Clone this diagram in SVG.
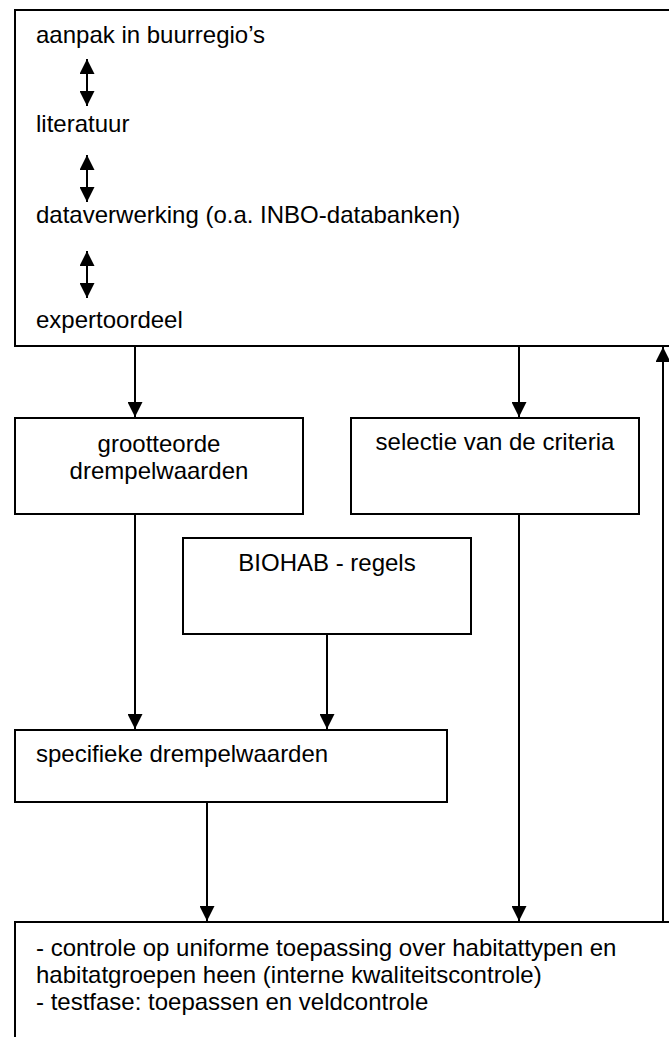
<svg xmlns="http://www.w3.org/2000/svg" width="669" height="1037" viewBox="0 0 669 1037">
<style>
.box{fill:#fff;stroke:#000;stroke-width:2}
.t{font-family:"Liberation Sans",Arial,sans-serif;font-size:24px;fill:#000}
.c{text-anchor:middle}
.ln{stroke:#000;stroke-width:2;fill:none}
</style>
<defs>
<marker id="ah" markerUnits="userSpaceOnUse" markerWidth="15" markerHeight="15" viewBox="0 0 15 15" refX="15" refY="7.5" orient="auto-start-reverse">
<path d="M0,0 L15,7.5 L0,15 z" fill="#000"/>
</marker>
</defs>
<rect width="669" height="1037" fill="#fff"/>
<g id="sources">
<rect class="box" x="15" y="10" width="680" height="336"/>
<text class="t" x="36" y="43">aanpak in buurregio’s</text>
<text class="t" x="36" y="132">literatuur</text>
<text class="t" x="36" y="223">dataverwerking (o.a. INBO-databanken)</text>
<text class="t" x="36" y="328">expertoordeel</text>
</g>
<g id="grootteorde">
<rect class="box" x="15" y="418" width="288" height="96"/>
<text class="t c" x="159" y="452">grootteorde</text>
<text class="t c" x="159" y="479">drempelwaarden</text>
</g>
<g id="selectie">
<rect class="box" x="351" y="418" width="288" height="96"/>
<text class="t c" x="495" y="450">selectie van de criteria</text>
</g>
<g id="biohab">
<rect class="box" x="183" y="538" width="288" height="96"/>
<text class="t c" x="327" y="571">BIOHAB - regels</text>
</g>
<g id="specifieke">
<rect class="box" x="15" y="730" width="432" height="72"/>
<text class="t" x="36" y="762">specifieke drempelwaarden</text>
</g>
<g id="controle">
<rect class="box" x="15" y="922" width="680" height="200"/>
<text class="t" x="36" y="956">- controle op uniforme toepassing over habitattypen en</text>
<text class="t" x="36" y="983">habitatgroepen heen (interne kwaliteitscontrole)</text>
<text class="t" x="36" y="1010">- testfase: toepassen en veldcontrole</text>
</g>
<g id="connectors">
<line class="ln" x1="87" y1="59" x2="87" y2="106" marker-start="url(#ah)" marker-end="url(#ah)"/>
<line class="ln" x1="87" y1="155" x2="87" y2="202" marker-start="url(#ah)" marker-end="url(#ah)"/>
<line class="ln" x1="87" y1="251" x2="87" y2="298" marker-start="url(#ah)" marker-end="url(#ah)"/>
<line class="ln" x1="135" y1="347" x2="135" y2="417" marker-end="url(#ah)"/>
<line class="ln" x1="519" y1="347" x2="519" y2="417" marker-end="url(#ah)"/>
<line class="ln" x1="135" y1="515" x2="135" y2="729" marker-end="url(#ah)"/>
<line class="ln" x1="327" y1="635" x2="327" y2="729" marker-end="url(#ah)"/>
<line class="ln" x1="207" y1="803" x2="207" y2="921" marker-end="url(#ah)"/>
<line class="ln" x1="519" y1="515" x2="519" y2="921" marker-end="url(#ah)"/>
<line class="ln" x1="663" y1="921" x2="663" y2="347" marker-end="url(#ah)"/>
</g>
</svg>
